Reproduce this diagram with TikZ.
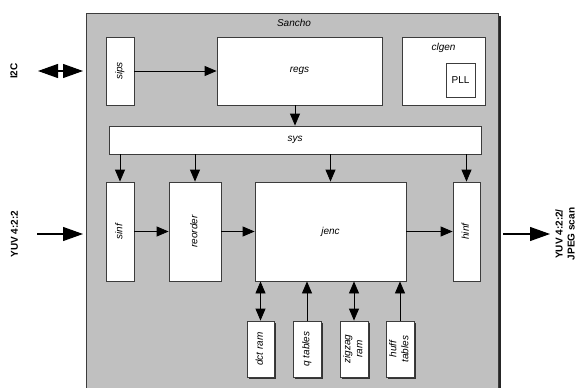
\documentclass[tikz,border=0pt]{standalone}
\usepackage{fontspec}
\setmainfont{Liberation Sans}
\usetikzlibrary{arrows.meta}
\usetikzlibrary{shadows}

\definecolor{chipgray}{HTML}{C0C0C0}
\definecolor{edgegray}{HTML}{3C3C3C}

\newcommand{\vlabel}[1]{\rotatebox{90}{\begin{tabular}{@{}c@{}}#1\end{tabular}}}

\tikzset{
  block/.style={draw=edgegray, fill=white, line width=0.8pt, inner sep=0pt, font=\itshape},
  memblock/.style={block, drop shadow={shadow xshift=2pt, shadow yshift=-2pt, fill=black!80, opacity=1}},
  chip/.style={draw=edgegray, fill=chipgray, line width=0.8pt, inner sep=0pt,
    drop shadow={shadow xshift=3pt, shadow yshift=-3pt, fill=black!85, opacity=1}},
  arr/.style={line width=0.8pt, -{Triangle[length=12pt,width=10pt]}},
  dblarr/.style={line width=0.8pt, {Triangle[length=12pt,width=10pt]}-{Triangle[length=12pt,width=10pt]}},
  bigarr/.style={line width=1.2pt, -{Triangle[length=20pt,width=14pt]}},
  bigdbl/.style={line width=1.2pt, {Triangle[length=20pt,width=14pt]}-{Triangle[length=20pt,width=14pt]}},
  extlabel/.style={font=\bfseries, inner sep=0pt}
}

\begin{document}
\begin{tikzpicture}[x=1pt,y=-1pt,font=\fontsize{10.5}{12}\selectfont]
\useasboundingbox (0,0) rectangle (578,388);
% chip outline
\node[chip, minimum width=412, minimum height=390, anchor=north west] (sancho) at (86,13) {};
\node[font=\itshape] (sancholbl) at (294,23) {Sancho};
% top row
\node[block, minimum width=28, minimum height=68] (sips) at (120,71) {\vlabel{sips}};
\node[block, minimum width=165, minimum height=68] (regs) at (299.5,71) {regs};
\node[block, minimum width=83, minimum height=68] (clgen) at (443.5,71) {};
\node[font=\itshape] (clgenlbl) at ([yshift=-11pt]clgen.north) {clgen};
\node[block, font=\upshape, minimum width=29, minimum height=34] (pll) at (460.5,80) {PLL};
% bus
\node[block, minimum width=372, minimum height=28] (sys) at (295,140) {sys};
% datapath
\node[block, minimum width=28, minimum height=99] (sinf) at (120,231.5) {\vlabel{sinf}};
\node[block, minimum width=52, minimum height=99] (reorder) at (195,231.5) {\vlabel{reorder}};
\node[block, minimum width=151, minimum height=99] (jenc) at (330.5,231.5) {jenc};
\node[block, minimum width=27, minimum height=99] (hinf) at (466.5,231.5) {\vlabel{hinf}};
% memories
\node[memblock, minimum width=27, minimum height=56] (dctram) at (260.5,349) {\vlabel{dct ram}};
\node[memblock, minimum width=28, minimum height=56] (qtables) at (307,349) {\vlabel{q tables}};
\node[memblock, minimum width=28, minimum height=56] (zigzag) at (354,349) {\vlabel{zigzag\\ram}};
\node[memblock, minimum width=28, minimum height=56] (hufftables) at (400,349) {\vlabel{huff\\tables}};

% internal connections
\draw[arr] (sips.east) -- (regs.west);
\draw[arr] (regs.south -| sys.north) -- (sys.north);
\foreach \dest in {sinf,reorder,jenc,hinf}
  \draw[arr] (sys.south -| \dest.north) -- (\dest.north);
\draw[arr] (sinf.east) -- (reorder.west);
\draw[arr] (reorder.east) -- (jenc.west);
\draw[arr] (jenc.east) -- (hinf.west);
\draw[dblarr] (dctram.north) -- (dctram.north |- jenc.south);
\draw[arr] (qtables.north) -- (qtables.north |- jenc.south);
\draw[dblarr] (zigzag.north) -- (zigzag.north |- jenc.south);
\draw[arr] (hufftables.north) -- (hufftables.north |- jenc.south);

% external ports
\coordinate (i2cL) at (38,71);
\coordinate (i2cR) at (83,71);
\draw[bigdbl] (i2cL) -- (i2cR);
\node[extlabel, rotate=90] (i2clbl) at (14,71) {I2C};
\coordinate (yuvL) at (37,234);
\coordinate (yuvR) at (83,234);
\draw[bigarr] (yuvL) -- (yuvR);
\node[extlabel, rotate=90] (yuvlbl) at (14.5,234) {YUV 4:2:2};
\coordinate (outL) at (503,234);
\coordinate (outR) at (550,234);
\draw[bigarr] (outL) -- (outR);
\node[extlabel, rotate=90, align=center] (outlbl) at (565,234) {YUV 4:2:2/\\JPEG scan};
\end{tikzpicture}
\end{document}
